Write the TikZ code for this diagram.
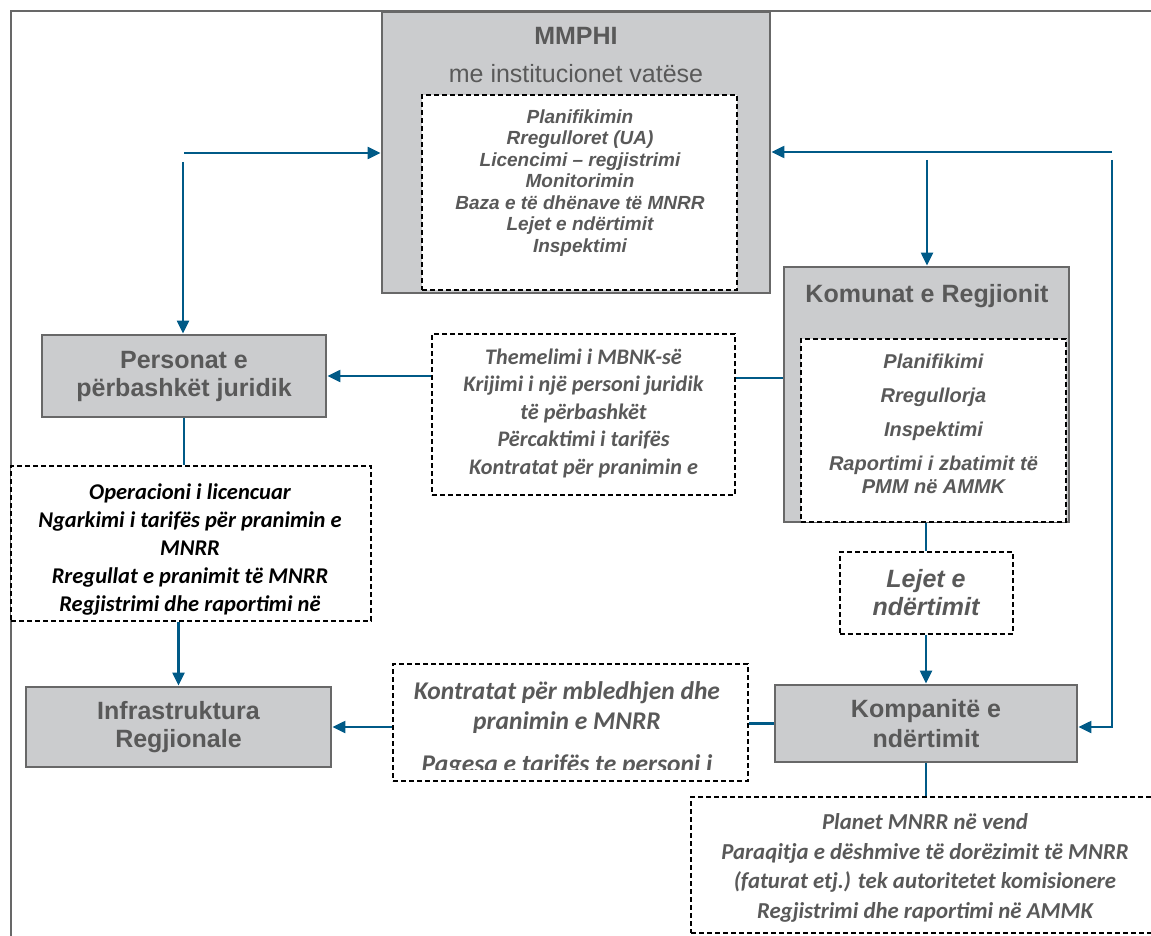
\documentclass[tikz,border=0pt]{standalone}
\usepackage{fontspec}
\setmainfont{Liberation Sans}
\newfontfamily\carl{Carlito}
\usetikzlibrary{arrows.meta}
\definecolor{boxgray}{RGB}{203,204,206}
\definecolor{edgegray}{RGB}{104,104,104}
\definecolor{txtgray}{RGB}{89,89,89}
\definecolor{flowblue}{RGB}{0,90,135}
\newcommand{\headfont}{\fontsize{25}{28}\selectfont\bfseries}
\newcommand{\listfont}{\fontsize{19}{21.5}\selectfont\bfseries\itshape}
\newcommand{\taskfont}{\carl\fontsize{22.2}{27.5}\selectfont\bfseries\itshape}
\tikzstyle{unit} = [draw=edgegray, line width=2.8pt, fill=boxgray, text=txtgray, font=\headfont, align=center, inner sep=0pt]
\tikzstyle{task} = [draw=black, line width=2pt, dash pattern=on 5pt off 3pt, fill=white, inner sep=0pt]
\tikzstyle{tasktext} = [text=txtgray, font=\taskfont, align=center, anchor=base]
\tikzstyle{flow} = [draw=flowblue, line width=2.2pt, -{Triangle[length=13pt,width=12pt]}]
\tikzstyle{link} = [draw=flowblue, line width=2.2pt]
\tikzstyle{frame} = [draw=edgegray, line width=1.4pt]

\begin{document}
\begin{tikzpicture}[x=1pt,y=-1pt]
    \useasboundingbox (0,0) rectangle (1151,936);
    \clip (0,0) rectangle (1151,936);
    \draw[frame] (11,936) -- (11,11) -- (1151,11);

    % ministry (text nodes sit on their last baseline)
    \node[unit, minimum width=388, minimum height=281] (mmphi) at (576,152.5) {};
    \node[text=txtgray, font=\headfont, anchor=base] (mmphiT) at (576,45) {MMPHI};
    \node[text=txtgray, font=\fontsize{25}{28}\selectfont, anchor=base] (mmphiS) at (576,83) {me institucionet vatëse};
    \node[task, minimum width=315, minimum height=195] (mmphiL) at (579.5,192.5) {};
    \node[text=txtgray, font=\listfont, align=center, anchor=base] (mmphiTx) at (580,252) {Planifikimin\\Rregulloret (UA)\\Licencimi – regjistrimi\\Monitorimin\\Baza e të dhënave të MNRR\\Lejet e ndërtimit\\Inspektimi};

    % municipalities
    \node[unit, minimum width=285, minimum height=255] (komunat) at (926.5,394.5) {};
    \node[text=txtgray, font=\headfont, anchor=base] (komunatT) at (927,302) {Komunat e Regjionit};
    \node[task, minimum width=265, minimum height=183] (komunatL) at (933.5,430.5) {};
    \node[text=txtgray, font=\fontsize{20}{23}\selectfont\bfseries\itshape, align=center, anchor=base] (komunatTx) at (933.5,493) {Planifikimi\\[11pt]Rregullorja\\[11pt]Inspektimi\\[11pt]Raportimi i zbatimit të\\PMM në AMMK};

    % left column
    \node[unit, minimum width=284, minimum height=82] (persons) at (184,376) {Personat e\\përbashkët juridik};
    \node[task, minimum width=360, minimum height=155] (oper) at (191,543.5) {};
    \node[tasktext, text=black, font=\carl\fontsize{22.5}{28}\selectfont\bfseries\itshape] (operTx) at (190,611) {Operacioni i licencuar\\Ngarkimi i tarifës për pranimin e\\MNRR\\Rregullat e pranimit të MNRR\\Regjistrimi dhe raportimi në};
    \node[unit, minimum width=305, minimum height=80] (infra) at (178.5,727) {Infrastruktura\\Regjionale};

    % middle
    \node[task, minimum width=303, minimum height=161] (themel) at (583.5,414.5) {};
    \node[tasktext] (themelTx) at (583.5,474) {Themelimi i MBNK-së\\Krijimi i një personi juridik\\të përbashkët\\Përcaktimi i tarifës\\Kontratat për pranimin e};
    \node[task, minimum width=355, minimum height=117] (kontr) at (570.5,722.5) {};
    \begin{scope}
      \clip (395,666) rectangle (746,769);
      \node[tasktext, font=\carl\fontsize{25.5}{30}\selectfont\bfseries\itshape] (kontrTx) at (567,772) {Kontratat për mbledhjen dhe\\pranimin e MNRR\\[13pt]Pagesa e tarifës te personi i};
    \end{scope}

    % right column
    \node[task, minimum width=173, minimum height=82, text=txtgray, align=center, font=\fontsize{25}{28}\selectfont\bfseries\itshape] (lejet) at (926,593) {Lejet e\\ndërtimit};
    \node[unit, minimum width=302, minimum height=77, font=\fontsize{25}{30}\selectfont\bfseries] (kompanite) at (926,723.5) {Kompanitë e\\ndërtimit};
    \node[task, minimum width=470, minimum height=136] (plans) at (926,865) {};
    \node[tasktext, font=\carl\fontsize{22.8}{29.5}\selectfont\bfseries\itshape] (plansTx) at (925,918) {Planet MNRR në vend\\Paraqitja e dëshmive të dorëzimit të MNRR\\(faturat etj.) tek autoritetet komisionere\\Regjistrimi dhe raportimi në AMMK};

    % connectors
    \coordinate (inL) at (184,153);
    \coordinate (downL) at (183,162);
    \coordinate (inR) at (1112,152);
    \coordinate (downM) at (927,160);
    \coordinate (downR) at (1112,160);
    \coordinate (turnR) at (1112,727);
    \coordinate (midK) at (760,378);
    \draw[flow] (inL) -- (inL -| mmphi.west);
    \draw[flow] (downL) -- (downL |- persons.north);
    \draw[flow] (inR) -- (inR -| mmphi.east);
    \draw[flow] (downM) -- (downM |- komunat.north);
    \draw[flow] (downR) -- (turnR) -- (turnR -| kompanite.east);
    \draw[flow] (themel.west |- persons.east) -- (persons.east);
    \draw[link] (midK -| themel.east) -- (midK -| komunat.west);
    \draw[link] (komunatL.south -| lejet.north) -- (lejet.north);
    \draw[flow] (lejet.south) -- (lejet.south |- kompanite.north);
    \draw[link] (kompanite.west) -- (kompanite.west -| kontr.east);
    \draw[flow] (kontr.west |- infra.east) -- (infra.east);
    \draw[link] (persons.south) -- (persons.south |- oper.north);
    \draw[flow] (oper.south -| infra.north) -- (infra.north);
    \draw[link] (kompanite.south) -- (kompanite.south |- plans.north);
\end{tikzpicture}
\end{document}
